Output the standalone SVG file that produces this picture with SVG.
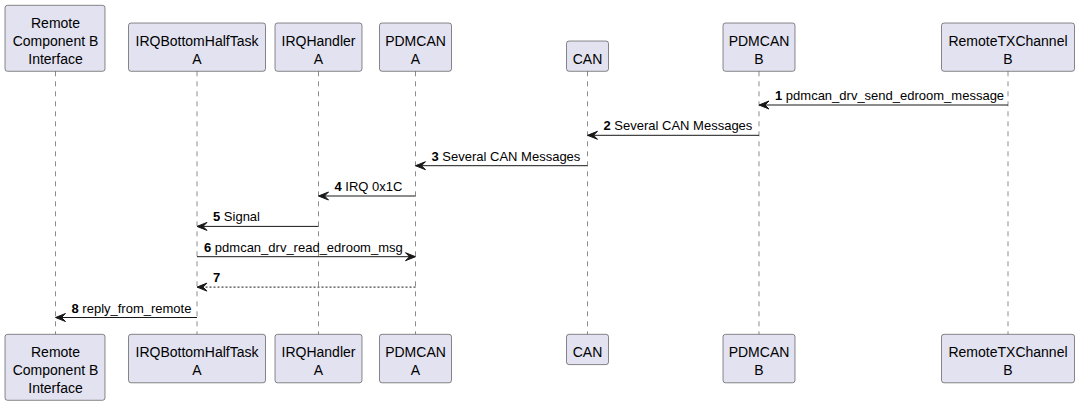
<svg xmlns="http://www.w3.org/2000/svg" width="1079" height="406" viewBox="0 0 1079 406">
<style>
.box{fill:#E2E2F0;stroke:#181818;stroke-width:0.5}
.pt{font-family:"Liberation Sans",Arial,sans-serif;font-size:14px;fill:#000;text-anchor:middle}
.life{stroke:#181818;stroke-width:0.5;stroke-dasharray:5,5;fill:none}
.msg{stroke:#181818;stroke-width:1;fill:none}
.dash{stroke-dasharray:2,2}
.head{fill:#181818;stroke:#181818;stroke-width:1}
.ml{font-family:"Liberation Sans",Arial,sans-serif;font-size:13px;fill:#000}
.num{font-weight:bold}
</style>
<rect width="1079" height="406" fill="#FFFFFF"/>
<g id="lifelines">
<line class="life" x1="55.5" y1="71.3" x2="55.5" y2="334.3"/>
<line class="life" x1="197" y1="71.3" x2="197" y2="334.3"/>
<line class="life" x1="318.5" y1="71.3" x2="318.5" y2="334.3"/>
<line class="life" x1="415.5" y1="71.3" x2="415.5" y2="334.3"/>
<line class="life" x1="587.5" y1="71.3" x2="587.5" y2="334.3"/>
<line class="life" x1="759" y1="71.3" x2="759" y2="334.3"/>
<line class="life" x1="1008" y1="71.3" x2="1008" y2="334.3"/>
</g>
<g id="remote">
<rect class="box" x="5" y="5.3" width="100" height="66" rx="2.5"/>
<text class="pt" x="55.5" y="28.3">Remote</text>
<text class="pt" x="55.5" y="46.3">Component B</text>
<text class="pt" x="55.5" y="64.3">Interface</text>
<rect class="box" x="5" y="334.3" width="100" height="66" rx="2.5"/>
<text class="pt" x="55.5" y="357.3">Remote</text>
<text class="pt" x="55.5" y="375.3">Component B</text>
<text class="pt" x="55.5" y="393.3">Interface</text>
</g>
<g id="irqbottom">
<rect class="box" x="128.5" y="23" width="137" height="48.3" rx="2.5"/>
<text class="pt" x="197" y="46.3">IRQBottomHalfTask</text>
<text class="pt" x="197" y="64.3">A</text>
<rect class="box" x="128.5" y="334.3" width="137" height="48.5" rx="2.5"/>
<text class="pt" x="197" y="357.3">IRQBottomHalfTask</text>
<text class="pt" x="197" y="375.3">A</text>
</g>
<g id="irqhandler">
<rect class="box" x="275" y="23" width="87" height="48.3" rx="2.5"/>
<text class="pt" x="318.5" y="46.3">IRQHandler</text>
<text class="pt" x="318.5" y="64.3">A</text>
<rect class="box" x="275" y="334.3" width="87" height="48.5" rx="2.5"/>
<text class="pt" x="318.5" y="357.3">IRQHandler</text>
<text class="pt" x="318.5" y="375.3">A</text>
</g>
<g id="pdmcanA">
<rect class="box" x="379.5" y="23" width="72" height="48.3" rx="2.5"/>
<text class="pt" x="415.5" y="46.3">PDMCAN</text>
<text class="pt" x="415.5" y="64.3">A</text>
<rect class="box" x="379.5" y="334.3" width="72" height="48.5" rx="2.5"/>
<text class="pt" x="415.5" y="357.3">PDMCAN</text>
<text class="pt" x="415.5" y="375.3">A</text>
</g>
<g id="can">
<rect class="box" x="566.5" y="41" width="42" height="30.3" rx="2.5"/>
<text class="pt" x="587.5" y="64.3">CAN</text>
<rect class="box" x="566.5" y="334.3" width="42" height="30.3" rx="2.5"/>
<text class="pt" x="587.5" y="357.3">CAN</text>
</g>
<g id="pdmcanB">
<rect class="box" x="723" y="23" width="72" height="48.3" rx="2.5"/>
<text class="pt" x="759" y="46.3">PDMCAN</text>
<text class="pt" x="759" y="64.3">B</text>
<rect class="box" x="723" y="334.3" width="72" height="48.5" rx="2.5"/>
<text class="pt" x="759" y="357.3">PDMCAN</text>
<text class="pt" x="759" y="375.3">B</text>
</g>
<g id="remotetx">
<rect class="box" x="941.5" y="23" width="133" height="48.3" rx="2.5"/>
<text class="pt" x="1008" y="46.3">RemoteTXChannel</text>
<text class="pt" x="1008" y="64.3">B</text>
<rect class="box" x="941.5" y="334.3" width="133" height="48.5" rx="2.5"/>
<text class="pt" x="1008" y="357.3">RemoteTXChannel</text>
<text class="pt" x="1008" y="375.3">B</text>
</g>
<g id="connectors">
<line class="msg" x1="1008" y1="105" x2="760" y2="105"/>
<polygon class="head" points="769,101 759,105 769,109 765,105"/>
<text class="ml" x="775" y="100"><tspan class="num">1</tspan> pdmcan_drv_send_edroom_message</text>

<line class="msg" x1="759" y1="135.3" x2="588.5" y2="135.3"/>
<polygon class="head" points="597.5,131.3 587.5,135.3 597.5,139.3 593.5,135.3"/>
<text class="ml" x="603.5" y="130.3"><tspan class="num">2</tspan> Several CAN Messages</text>

<line class="msg" x1="587.5" y1="165.7" x2="416.5" y2="165.7"/>
<polygon class="head" points="425.5,161.7 415.5,165.7 425.5,169.7 421.5,165.7"/>
<text class="ml" x="431.5" y="160.7"><tspan class="num">3</tspan> Several CAN Messages</text>

<line class="msg" x1="415.5" y1="196" x2="319.5" y2="196"/>
<polygon class="head" points="328.5,192 318.5,196 328.5,200 324.5,196"/>
<text class="ml" x="334.5" y="191"><tspan class="num">4</tspan> IRQ 0x1C</text>

<line class="msg" x1="318.5" y1="226.4" x2="198" y2="226.4"/>
<polygon class="head" points="207,222.4 197,226.4 207,230.4 203,226.4"/>
<text class="ml" x="213" y="221.4"><tspan class="num">5</tspan> Signal</text>

<line class="msg" x1="197" y1="256.7" x2="414.5" y2="256.7"/>
<polygon class="head" points="405.5,252.7 415.5,256.7 405.5,260.7 409.5,256.7"/>
<text class="ml" x="204" y="251.7"><tspan class="num">6</tspan> pdmcan_drv_read_edroom_msg</text>

<line class="msg dash" x1="415.5" y1="287.1" x2="198" y2="287.1"/>
<polygon class="head" points="207,283.1 197,287.1 207,291.1 203,287.1"/>
<text class="ml" x="213" y="282.1"><tspan class="num">7</tspan></text>

<line class="msg" x1="197" y1="317.5" x2="56.5" y2="317.5"/>
<polygon class="head" points="65.5,313.5 55.5,317.5 65.5,321.5 61.5,317.5"/>
<text class="ml" x="71.5" y="312.5"><tspan class="num">8</tspan> reply_from_remote</text>
</g>
</svg>
